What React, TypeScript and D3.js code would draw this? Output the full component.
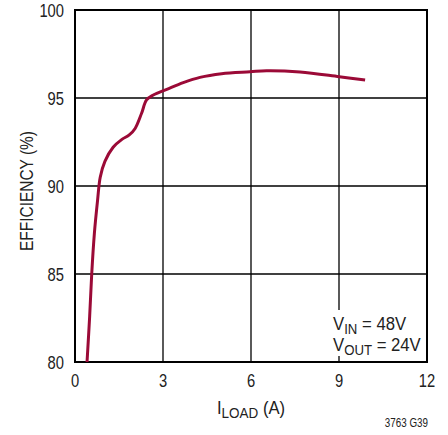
import React from "react";
import * as d3 from "d3";

const loadA = [0.41, 0.5, 0.57, 0.66, 0.77, 0.86, 1.02, 1.3, 1.6, 1.85, 2.05, 2.27, 2.44, 2.67, 3.13, 3.69, 4.26, 5.0, 5.97, 6.53, 7.67, 9.01, 9.89];
const effPct = [80, 82.6, 85, 87.3, 89.2, 90.5, 91.4, 92.2, 92.65, 92.9, 93.27, 94.13, 94.89, 95.17, 95.49, 95.87, 96.17, 96.38, 96.49, 96.55, 96.48, 96.21, 96.02];
const xTicks = [0, 3, 6, 9, 12];
const yTicks = [80, 85, 90, 95, 100];

const FONT = "'Liberation Sans', Arial, sans-serif";

function T(props: { x: number; y: number; anchor?: string; size: number; sx?: number; rotate?: number; children: React.ReactNode }) {
  const { x, y, anchor = "start", size, sx = 0.82, rotate = 0, children } = props;
  return (
    <g transform={`translate(${x},${y}) rotate(${rotate}) scale(${sx},1)`}>
      <text x={0} y={0} textAnchor={anchor} fontSize={size} fill="#222">{children}</text>
    </g>
  );
}

export default function App() {
  const W = 448, H = 435;
  const L = 75, R = 427, Tp = 10, B = 362;
  const x = d3.scaleLinear().domain([0, 12]).range([L, R]);
  const y = d3.scaleLinear().domain([80, 100]).range([B, Tp]);
  const pts = loadA.map((v, i) => [v, effPct[i]] as [number, number]);
  const line = d3.line<[number, number]>().x(d => x(d[0])).y(d => y(d[1])).curve(d3.curveCatmullRom.alpha(0.5));
  return (
    <svg width={W} height={H} style={{ position: "absolute", left: 0, top: 0, background: "#fff" }} fontFamily={FONT}>
      <rect x={0} y={0} width={W} height={H} fill="#fff" />
      {xTicks.slice(1, -1).map(t => (
        <line key={"gx" + t} x1={x(t)} x2={x(t)} y1={Tp} y2={B} stroke="#000" strokeWidth={1.3} />
      ))}
      {yTicks.slice(1, -1).map(t => (
        <line key={"gy" + t} x1={L} x2={R} y1={y(t)} y2={y(t)} stroke="#000" strokeWidth={1.3} />
      ))}
      <rect x={330} y={310} width={92} height={46} fill="#fff" />
      <rect x={L} y={Tp} width={R - L} height={B - Tp} fill="none" stroke="#000" strokeWidth={2} />
      <path d={line(pts) || ""} fill="none" stroke="#9B0A37" strokeWidth={3} strokeLinecap="butt" />
      {xTicks.map(t => (
        <T key={"tx" + t} x={x(t)} y={387} anchor="middle" size={18}>{t}</T>
      ))}
      {yTicks.map(t => (
        <T key={"ty" + t} x={64} y={y(t) + 6.5} anchor="end" size={18}>{t}</T>
      ))}
      <T x={33} y={191} anchor="middle" size={18} sx={0.86} rotate={-90}>EFFICIENCY (%)</T>
      <T x={251} y={414} anchor="middle" size={18.5} sx={0.9}>
        <tspan>I</tspan><tspan fontSize={15} dy={4}>LOAD</tspan><tspan dy={-4}> (A)</tspan>
      </T>
      <T x={333} y={330} size={19} sx={0.88}>
        <tspan>V</tspan><tspan fontSize={15} dy={4}>IN</tspan><tspan dy={-4}> = 48V</tspan>
      </T>
      <T x={333} y={351} size={19} sx={0.88}>
        <tspan>V</tspan><tspan fontSize={15} dy={4}>OUT</tspan><tspan dy={-4}> = 24V</tspan>
      </T>
      <T x={428} y={427} anchor="end" size={12}>3763 G39</T>
    </svg>
  );
}
